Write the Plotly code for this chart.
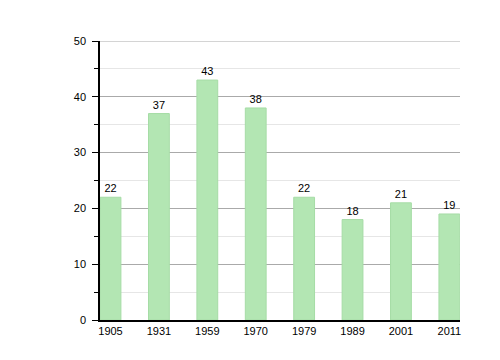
import plotly.graph_objects as go

years = ["1905", "1931", "1959", "1970", "1979", "1989", "2001", "2011"]
values = [22, 37, 43, 38, 22, 18, 21, 19]
y_ticks = [0, 10, 20, 30, 40, 50]

fig = go.Figure(go.Bar(
    x=years, y=values,
    text=[str(v) for v in values], textposition="outside",
    textfont=dict(size=11, color="black", family="Liberation Sans, Arial"),
    marker=dict(color="#b3e6b3", line=dict(color="#a6dca6", width=1)),
    width=0.43, cliponaxis=False,
))

# top gridline (plotly omits the gridline at the very edge of the range)
fig.add_shape(type="line", xref="paper", yref="y", x0=0, x1=1,
              y0=y_ticks[-1], y1=y_ticks[-1], line=dict(color="#aaaaaa", width=1),
              layer="below")

fig.update_layout(
    width=500, height=360,
    margin=dict(l=92, r=48, t=33, b=48, autoexpand=False),
    paper_bgcolor="white", plot_bgcolor="white",
    showlegend=False,
    font=dict(family="Liberation Sans, Arial", size=11, color="black"),
    xaxis=dict(type="category", range=[-0.217, 7.22], showline=True, linecolor="black",
               linewidth=1.5, ticks="", showgrid=False, tickfont=dict(size=11)),
    yaxis=dict(range=[0, 50], tickvals=y_ticks, showline=True,
               linecolor="black", linewidth=1.5,
               ticks="outside", ticklen=6, tickcolor="black", showgrid=True,
               gridcolor="#aaaaaa", gridwidth=1, zeroline=False,
               tickfont=dict(size=11), ticklabelstandoff=4,
               minor=dict(dtick=5, ticks="outside", ticklen=4, tickcolor="black",
                          showgrid=True, gridcolor="#e6e6e6")),
)

fig.write_html("out.html")
